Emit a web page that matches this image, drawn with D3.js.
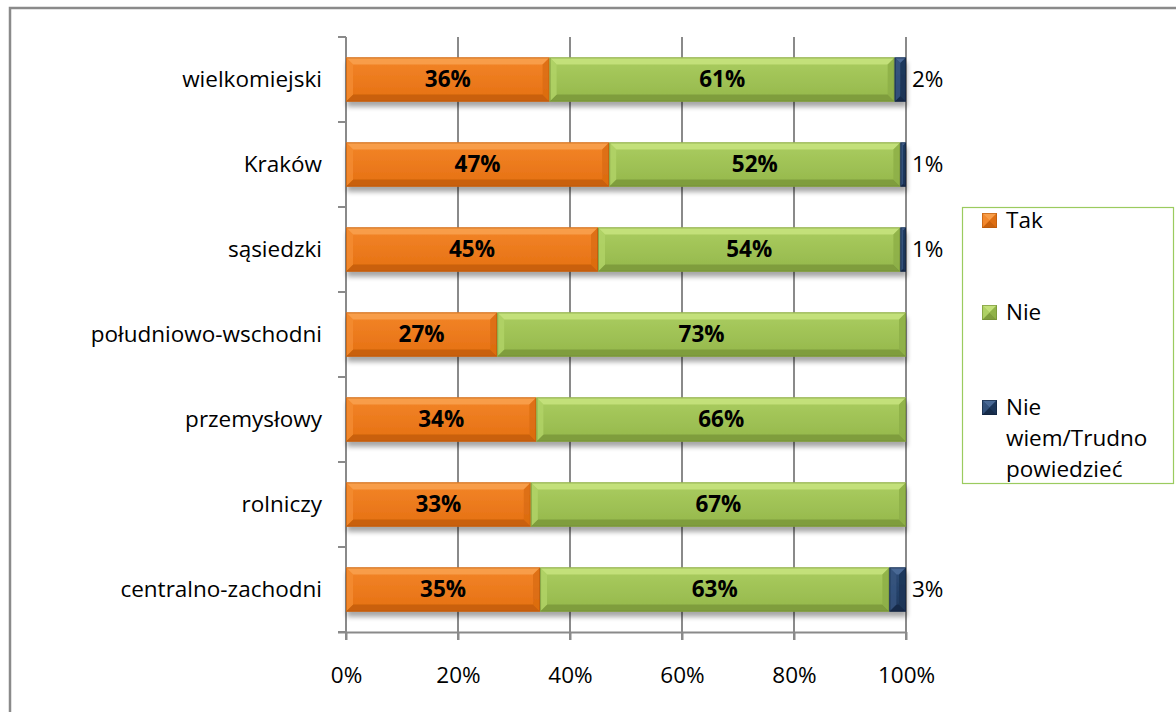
<!DOCTYPE html>
<html>
<head>
<meta charset="utf-8">
<script src="https://cdn.jsdelivr.net/npm/d3@7"></script>
<style>
  html, body { margin: 0; padding: 0; background: #fff; }
  svg { display: block; }
  text { font-family: "Open Sans", "DejaVu Sans", sans-serif; fill: #000; }
</style>
</head>
<body>
<svg id="chart" width="1176" height="712"></svg>
<script>
// Survey answers by region type (percent of respondents)
const categories = ["wielkomiejski", "Kraków", "sąsiedzki", "południowo-wschodni", "przemysłowy", "rolniczy", "centralno-zachodni"];
const tak = [36, 47, 45, 27, 34, 33, 35];
const nie = [61, 52, 54, 73, 66, 67, 63];
const nieWiem = [2, 1, 1, 0, 0, 0, 3];
const seriesKeys = ["tak", "nie", "nieWiem"];
const seriesNames = ["Tak", "Nie", "Nie wiem/Trudno powiedzieć"];
const xTicks = [0, 0.2, 0.4, 0.6, 0.8, 1.0];

const FONT = 22.5;

const colors = {
  tak:     { base: "#EF7614", light: "#F9A24F", dark: "#C55F0C", edge: "#B4570B" },
  nie:     { base: "#9CC150", light: "#C8E47F", dark: "#7C9A3C", edge: "#6F8B34" },
  nieWiem: { base: "#1E3B63", light: "#4F6F9B", dark: "#152A47", edge: "#10223B" }
};

const rows = categories.map((c, i) => ({ cat: c, tak: tak[i], nie: nie[i], nieWiem: nieWiem[i] }));

const svg = d3.select("#chart");

// outer frame (top and left edges)
svg.append("path")
  .attr("d", "M10,1000 L10,8 L1200,8")
  .attr("fill", "none").attr("stroke", "#8a8a8a").attr("stroke-width", 2.5);

const plot = { left: 346, right: 906, top: 37, bottom: 632 };

const x = d3.scaleLinear().domain([0, 1]).range([plot.left, plot.right]);
const y = d3.scaleBand().domain(categories).range([plot.top, plot.bottom]).paddingInner(0.48).paddingOuter(0.24);

const defs = svg.append("defs");
const shadow = defs.append("filter").attr("id", "shadow")
  .attr("x", "-5%").attr("y", "-30%").attr("width", "110%").attr("height", "180%");
shadow.append("feGaussianBlur").attr("in", "SourceAlpha").attr("stdDeviation", 2.5).attr("result", "b");
shadow.append("feOffset").attr("in", "b").attr("dx", 1).attr("dy", 5).attr("result", "o");
shadow.append("feComponentTransfer").attr("in", "o").attr("result", "s")
  .append("feFuncA").attr("type", "linear").attr("slope", 0.35);
const merge = shadow.append("feMerge");
merge.append("feMergeNode").attr("in", "s");
merge.append("feMergeNode").attr("in", "SourceGraphic");

// face gradients for each series
seriesKeys.forEach(k => {
  const g = defs.append("linearGradient").attr("id", "face-" + k)
    .attr("x1", 0).attr("y1", 0).attr("x2", 0).attr("y2", 1);
  g.append("stop").attr("offset", "0%").attr("stop-color", d3.interpolateRgb(colors[k].base, colors[k].light)(0.35));
  g.append("stop").attr("offset", "100%").attr("stop-color", d3.interpolateRgb(colors[k].base, colors[k].dark)(0.25));
});

// gridlines
svg.append("g").selectAll("line").data(xTicks.slice(1)).join("line")
  .attr("x1", d => x(d)).attr("x2", d => x(d))
  .attr("y1", plot.top).attr("y2", plot.bottom + 8)
  .attr("stroke", "#8a8a8a").attr("stroke-width", 2);

// bottom axis
const xAxis = svg.append("g").attr("transform", `translate(0,${plot.bottom})`)
  .call(d3.axisBottom(x).tickValues(xTicks).tickFormat(d3.format(".0%")).tickSize(8).tickPadding(27));
xAxis.select(".domain").attr("stroke", "#8a8a8a").attr("stroke-width", 2).attr("d", `M${plot.left - 8},0.5H${plot.right}`);
xAxis.selectAll(".tick line").attr("stroke", "#8a8a8a").attr("stroke-width", 2);
xAxis.selectAll(".tick text").attr("font-size", FONT).attr("font-family", "Open Sans").attr("fill", "#000");

// left category axis with boundary ticks
const yAxisG = svg.append("g");
yAxisG.append("line").attr("x1", plot.left).attr("x2", plot.left)
  .attr("y1", plot.top).attr("y2", plot.bottom + 8)
  .attr("stroke", "#8a8a8a").attr("stroke-width", 2);
const bounds = d3.range(categories.length + 1).map(i => plot.top + i * (plot.bottom - plot.top) / categories.length);
yAxisG.selectAll("line.tk").data(bounds).join("line").attr("class", "tk")
  .attr("x1", plot.left - 8).attr("x2", plot.left)
  .attr("y1", d => d).attr("y2", d => d)
  .attr("stroke", "#8a8a8a").attr("stroke-width", 2);
yAxisG.selectAll("text").data(categories).join("text")
  .attr("x", 322).attr("y", d => y(d) + y.bandwidth() / 2)
  .attr("dy", "0.35em").attr("text-anchor", "end").attr("font-size", FONT)
  .text(d => d);

// stacked 100% bars
const stack = d3.stack().keys(seriesKeys).offset(d3.stackOffsetExpand);
const stacked = stack(rows);

function bevel(g, x0, x1, y0, y1, k) {
  const w = x1 - x0, h = y1 - y0;
  if (w <= 0) return;
  const b = Math.min(7, w / 2, h / 2);
  const c = colors[k];
  g.append("rect").attr("x", x0).attr("y", y0).attr("width", w).attr("height", h)
    .attr("fill", `url(#face-${k})`);
  const poly = (pts, fill, op) => g.append("polygon")
    .attr("points", pts.map(p => p.join(",")).join(" ")).attr("fill", fill).attr("opacity", op);
  poly([[x0, y0], [x1, y0], [x1 - b, y0 + b], [x0 + b, y0 + b]], c.light, 0.85);
  poly([[x0, y1], [x1, y1], [x1 - b, y1 - b], [x0 + b, y1 - b]], c.dark, 0.9);
  poly([[x0, y0], [x0 + b, y0 + b], [x0 + b, y1 - b], [x0, y1]], d3.interpolateRgb(c.base, c.light)(0.5), 0.8);
  poly([[x1, y0], [x1 - b, y0 + b], [x1 - b, y1 - b], [x1, y1]], d3.interpolateRgb(c.base, c.dark)(0.5), 0.8);
  g.append("rect").attr("x", x0 + 0.5).attr("y", y0 + 0.5).attr("width", Math.max(0, w - 1)).attr("height", h - 1)
    .attr("fill", "none").attr("stroke", c.edge).attr("stroke-width", 1).attr("opacity", 0.6);
}

const barRows = svg.append("g").selectAll("g.row").data(rows).join("g")
  .attr("class", "row").attr("filter", "url(#shadow)");

barRows.each(function(r, i) {
  const g = d3.select(this);
  stacked.forEach(s => {
    const d = s[i];
    bevel(g, x(d[0]), x(d[1]), y(r.cat), y(r.cat) + y.bandwidth(), s.key);
  });
});

// value labels
const labels = svg.append("g");
stacked.forEach(s => {
  s.forEach((d, i) => {
    const v = rows[i][s.key];
    if (!v) return;
    const cy = y(rows[i].cat) + y.bandwidth() / 2;
    if (s.key === "nieWiem") {
      labels.append("text").attr("x", plot.right + 6).attr("y", cy).attr("dy", "0.35em")
        .attr("font-size", FONT).text(v + "%");
    } else {
      labels.append("text").attr("x", (x(d[0]) + x(d[1])) / 2).attr("y", cy).attr("dy", "0.35em")
        .attr("text-anchor", "middle").attr("font-size", FONT).attr("font-weight", "bold").text(v + "%");
    }
  });
});

// legend
const lg = svg.append("g");
lg.append("rect").attr("x", 962.5).attr("y", 207.5).attr("width", 211).attr("height", 276)
  .attr("fill", "#fff").attr("stroke", "#9BCB5F").attr("stroke-width", 1.2);
const legendY = [220, 312, 407];
seriesKeys.forEach((k, i) => {
  const item = lg.append("g");
  bevel(item, 982, 997, legendY[i] - 7, legendY[i] + 8, k);
  const lines = i === 2 ? ["Nie", "wiem/Trudno", "powiedzieć"] : [seriesNames[i]];
  lines.forEach((t, j) => {
    item.append("text").attr("x", 1006).attr("y", legendY[i] + j * 31).attr("dy", "0.35em")
      .attr("font-size", FONT).text(t);
  });
});
</script>
</body>
</html>
